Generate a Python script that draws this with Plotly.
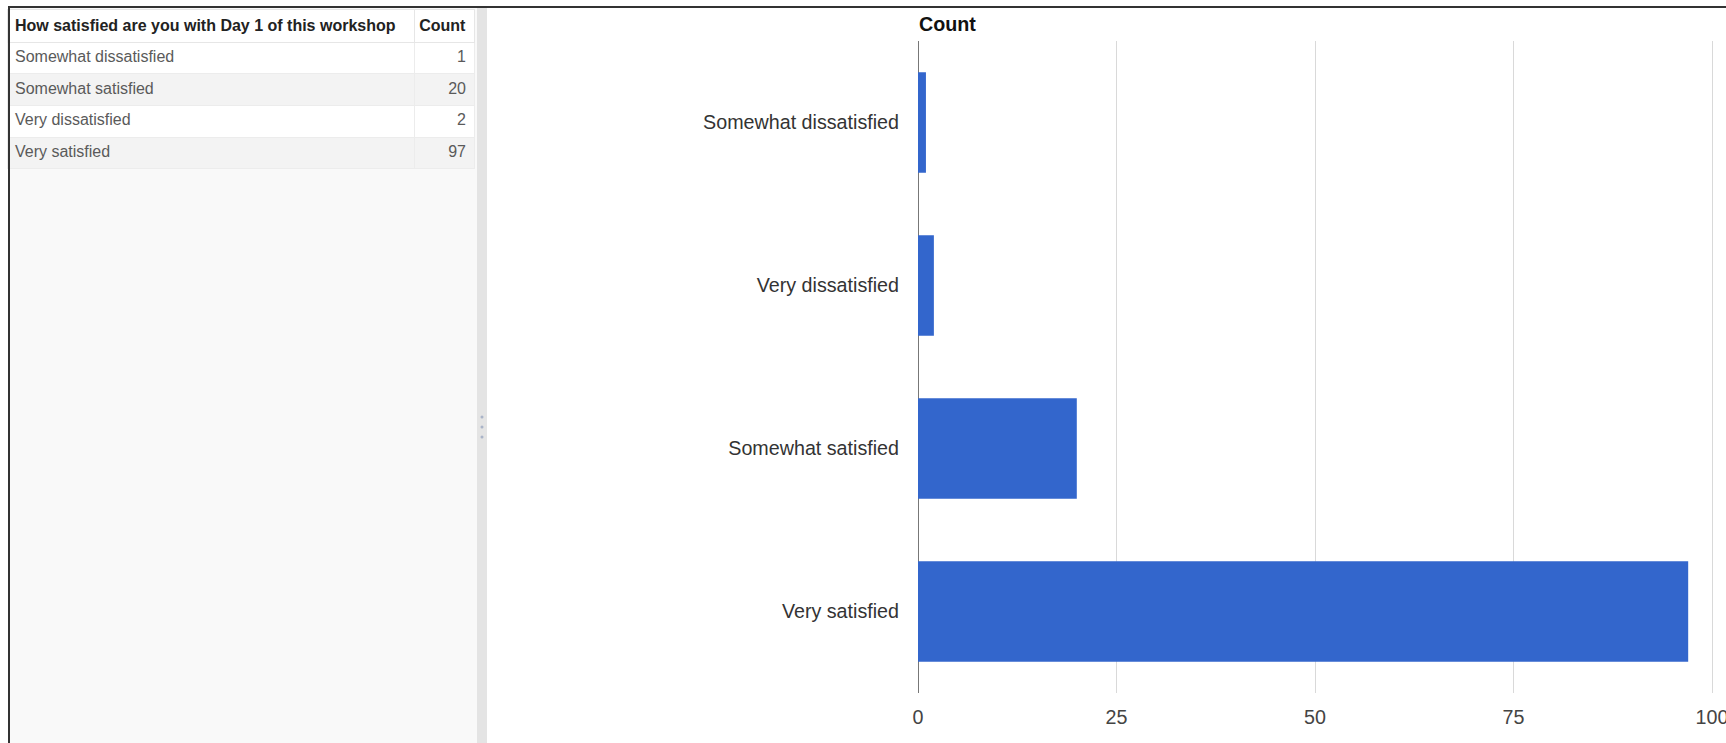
import plotly.graph_objects as go

# ---- data ----
table_title = "How satisfied are you with Day 1 of this workshop"
count_title = "Count"
categories = ["Somewhat dissatisfied", "Somewhat satisfied", "Very dissatisfied", "Very satisfied"]
counts = [1, 20, 2, 97]
x_ticks = [0, 25, 50, 75, 100]

W, H = 1726, 743


def px(x):
    return x / W


def py(y):
    return 1 - y / H


# chart order: ascending count from top to bottom
order = [c for _, c in sorted(zip(counts, categories))]

FONT = "Liberation Sans, Arial, sans-serif"

fig = go.Figure()

row_fill = ["#ffffff" if i % 2 == 0 else "#f3f3f3" for i in range(len(categories))]

fig.add_trace(go.Table(
    domain=dict(x=[px(7), px(475)], y=[0, py(9)]),
    columnwidth=[408, 60],
    header=dict(
        values=["<b>" + table_title + "</b>", "<b>" + count_title + "</b>"],
        align=["left", "right"],
        fill=dict(color="#ffffff"),
        line=dict(color="#e6e6e6", width=1),
        font=dict(family=FONT, size=16, color="#222222"),
        height=29,
    ),
    cells=dict(
        values=[categories, counts],
        align=["left", "right"],
        fill=dict(color=[row_fill, row_fill]),
        line=dict(color="#ececec", width=1),
        font=dict(family=FONT, size=16, color="#5a5a5a"),
        height=31.7,
    ),
))

fig.add_trace(go.Bar(
    x=counts,
    y=categories,
    orientation="h",
    marker=dict(color="#3366cc", line=dict(width=0)),
    hoverinfo="x+y",
    xaxis="x",
    yaxis="y",
))

shapes = [
    dict(type="rect", xref="paper", yref="paper", x0=px(10), x1=px(477), y0=0, y1=py(8),
         fillcolor="#f9f9f9", line=dict(width=0), layer="below"),
    dict(type="rect", xref="paper", yref="paper", x0=px(477), x1=px(487), y0=0, y1=py(8),
         fillcolor="#e4e4e4", line=dict(width=0), layer="below"),
    dict(type="line", xref="paper", yref="paper", x0=px(8), x1=1, y0=py(7), y1=py(7),
         line=dict(color="#333333", width=2), layer="above"),
    dict(type="line", xref="paper", yref="paper", x0=px(9), x1=px(9), y0=0, y1=py(7),
         line=dict(color="#333333", width=2), layer="above"),
]
for yy in (417, 427, 437):
    shapes.append(dict(type="circle", xref="paper", yref="paper",
                       x0=px(480.5), x1=px(483.5), y0=py(yy + 1.5), y1=py(yy - 1.5),
                       fillcolor="#a9b4c8", line=dict(width=0), layer="below"))

fig.update_layout(
    width=W, height=H,
    margin=dict(l=0, r=0, t=0, b=0),
    paper_bgcolor="#ffffff",
    plot_bgcolor="#ffffff",
    showlegend=False,
    bargap=0.382,
    font=dict(family=FONT),
    xaxis=dict(
        domain=[px(918), px(1713.2)],
        range=[0, 100.15],
        tickvals=x_ticks,
        ticktext=[str(v) for v in x_ticks],
        showgrid=True, gridcolor="#d9d9d9", gridwidth=1,
        zeroline=True, zerolinecolor="#777777", zerolinewidth=1.3,
        showline=False, ticks="",
        ticklabelstandoff=10,
        ticklabeloverflow="allow",
        tickfont=dict(family=FONT, size=19.7, color="#444444"),
        automargin=False, fixedrange=True,
    ),
    yaxis=dict(
        domain=[py(693), py(41)],
        categoryorder="array", categoryarray=order,
        autorange="reversed",
        showgrid=False, zeroline=False, showline=False, ticks="",
        ticklabelstandoff=18,
        tickfont=dict(family=FONT, size=19.7, color="#333333"),
        automargin=False, fixedrange=True,
    ),
    shapes=shapes,
    annotations=[dict(
        text="<b>" + count_title + "</b>", xref="paper", yref="paper",
        x=px(917), y=py(24), xanchor="left", yanchor="middle", showarrow=False,
        font=dict(family=FONT, size=19.7, color="#111111"),
    )],
)

fig.write_html("out.html")
